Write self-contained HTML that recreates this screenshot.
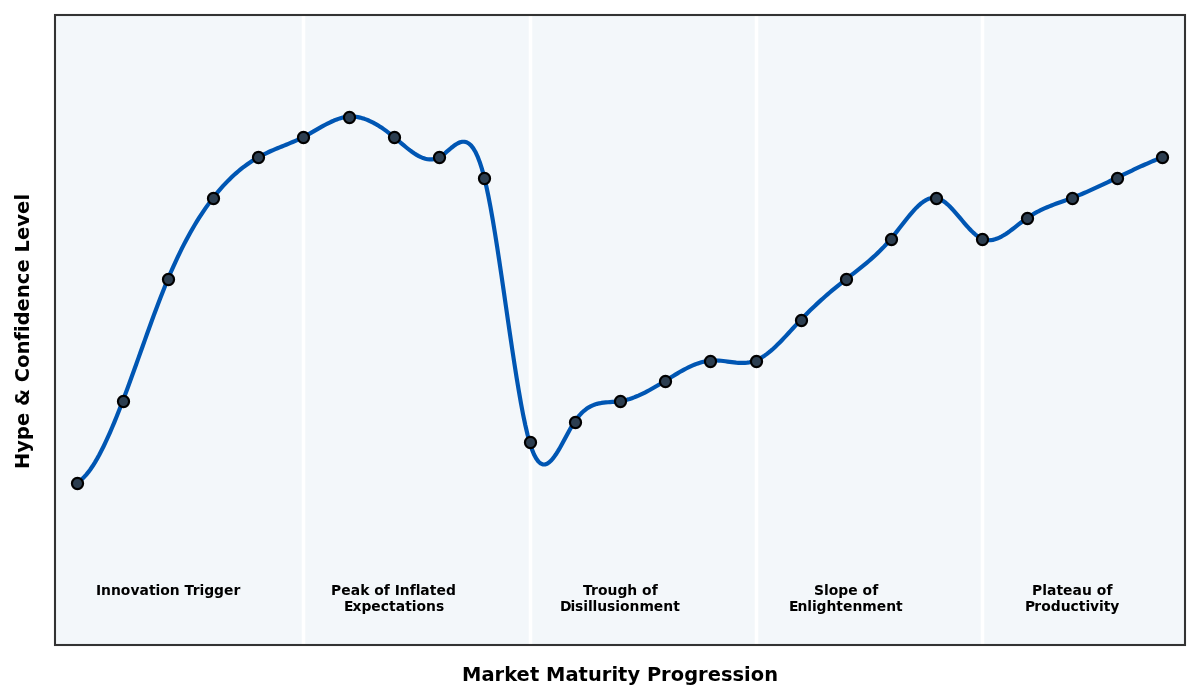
<!DOCTYPE html>
<html lang="en">
<head>
<meta charset="utf-8">
<title>Hype Cycle — Market Maturity Progression</title>
<style>
html,body{margin:0;padding:0;background:#ffffff;}
body{width:1200px;height:700px;overflow:hidden;}
svg{display:block;}
text{font-family:"DejaVu Sans","Liberation Sans",sans-serif;font-weight:bold;fill:#000000;}
.stage{font-size:13.889px;}
.axlabel{font-size:19.444px;}
</style>
</head>
<body>
<svg width="1200" height="700" viewBox="0 0 1200 700" role="img" aria-label="Hype cycle curve: hype and confidence level across market maturity stages">
<rect x="0" y="0" width="1200" height="700" fill="#ffffff"/>
<rect x="54.833" y="15" width="1130.167" height="630.167" fill="#f3f7fa"/>
<rect x="301.764" y="15" width="3.472" height="630.167" fill="#ffffff"/>
<rect x="528.764" y="15" width="3.472" height="630.167" fill="#ffffff"/>
<rect x="754.764" y="15" width="3.472" height="630.167" fill="#ffffff"/>
<rect x="980.764" y="15" width="3.472" height="630.167" fill="#ffffff"/>
<path d="M77.44 482.54 L79.61 481.08 L81.79 479.30 L83.96 477.22 L86.13 474.83 L88.31 472.17 L90.48 469.23 L92.66 466.02 L94.83 462.57 L97.01 458.88 L99.18 454.96 L101.35 450.82 L103.53 446.48 L105.70 441.94 L107.88 437.23 L110.05 432.34 L112.22 427.29 L114.40 422.09 L116.57 416.75 L118.75 411.29 L120.92 405.72 L123.10 400.04 L125.27 394.27 L127.44 388.42 L129.62 382.50 L131.79 376.53 L133.97 370.50 L136.14 364.44 L138.32 358.36 L140.49 352.27 L142.66 346.18 L144.84 340.09 L147.01 334.03 L149.19 328.00 L151.36 322.02 L153.54 316.09 L155.71 310.23 L157.88 304.44 L160.06 298.75 L162.23 293.16 L164.41 287.68 L166.58 282.33 L168.76 277.11 L170.93 272.03 L173.10 267.09 L175.28 262.28 L177.45 257.61 L179.63 253.07 L181.80 248.66 L183.98 244.37 L186.15 240.21 L188.32 236.17 L190.50 232.25 L192.67 228.44 L194.85 224.75 L197.02 221.17 L199.20 217.70 L201.37 214.33 L203.54 211.07 L205.72 207.91 L207.89 204.84 L210.07 201.88 L212.24 199.01 L214.42 196.22 L216.59 193.53 L218.76 190.93 L220.94 188.41 L223.11 185.98 L225.29 183.63 L227.46 181.37 L229.64 179.18 L231.81 177.08 L233.98 175.05 L236.16 173.10 L238.33 171.23 L240.51 169.43 L242.68 167.70 L244.86 166.04 L247.03 164.45 L249.20 162.93 L251.38 161.48 L253.55 160.09 L255.73 158.76 L257.90 157.50 L260.08 156.30 L262.25 155.15 L264.42 154.06 L266.60 153.01 L268.77 152.00 L270.95 151.02 L273.12 150.07 L275.30 149.15 L277.47 148.25 L279.64 147.36 L281.82 146.48 L283.99 145.60 L286.17 144.72 L288.34 143.83 L290.51 142.92 L292.69 142.00 L294.86 141.05 L297.04 140.08 L299.21 139.07 L301.39 138.02 L303.56 136.92 L305.73 135.78 L307.91 134.59 L310.08 133.37 L312.26 132.14 L314.43 130.88 L316.61 129.63 L318.78 128.38 L320.95 127.14 L323.13 125.93 L325.30 124.75 L327.48 123.61 L329.65 122.52 L331.83 121.50 L334.00 120.54 L336.17 119.67 L338.35 118.88 L340.52 118.19 L342.70 117.61 L344.87 117.15 L347.05 116.81 L349.22 116.60 L351.39 116.54 L353.57 116.61 L355.74 116.81 L357.92 117.14 L360.09 117.59 L362.27 118.16 L364.44 118.85 L366.61 119.64 L368.79 120.54 L370.96 121.53 L373.14 122.63 L375.31 123.81 L377.49 125.08 L379.66 126.43 L381.83 127.86 L384.01 129.36 L386.18 130.93 L388.36 132.56 L390.53 134.25 L392.71 136.00 L394.88 137.80 L397.05 139.63 L399.23 141.49 L401.40 143.34 L403.58 145.19 L405.75 147.00 L407.93 148.75 L410.10 150.44 L412.27 152.04 L414.45 153.53 L416.62 154.89 L418.80 156.12 L420.97 157.18 L423.15 158.06 L425.32 158.74 L427.49 159.21 L429.67 159.44 L431.84 159.42 L434.02 159.13 L436.19 158.55 L438.37 157.66 L440.54 156.45 L442.71 154.97 L444.89 153.28 L447.06 151.46 L449.24 149.60 L451.41 147.76 L453.59 146.04 L455.76 144.50 L457.93 143.22 L460.11 142.28 L462.28 141.76 L464.46 141.73 L466.63 142.28 L468.81 143.47 L470.98 145.39 L473.15 148.12 L475.33 151.73 L477.50 156.30 L479.68 161.91 L481.85 168.63 L484.02 176.55 L486.20 185.71 L488.37 196.04 L490.55 207.40 L492.72 219.68 L494.90 232.73 L497.07 246.44 L499.24 260.67 L501.42 275.29 L503.59 290.17 L505.77 305.19 L507.94 320.22 L510.12 335.13 L512.29 349.78 L514.46 364.06 L516.64 377.82 L518.81 390.95 L520.99 403.31 L523.16 414.77 L525.34 425.21 L527.51 434.50 L529.68 442.50 L531.86 449.14 L534.03 454.47 L536.21 458.58 L538.38 461.54 L540.56 463.46 L542.73 464.41 L544.90 464.48 L547.08 463.75 L549.25 462.31 L551.43 460.25 L553.60 457.64 L555.78 454.58 L557.95 451.15 L560.12 447.43 L562.30 443.52 L564.47 439.49 L566.65 435.44 L568.82 431.44 L571.00 427.58 L573.17 423.95 L575.34 420.63 L577.52 417.67 L579.69 415.06 L581.87 412.76 L584.04 410.77 L586.22 409.06 L588.39 407.59 L590.56 406.37 L592.74 405.35 L594.91 404.52 L597.09 403.85 L599.26 403.33 L601.44 402.93 L603.61 402.63 L605.78 402.40 L607.96 402.23 L610.13 402.08 L612.31 401.95 L614.48 401.80 L616.66 401.62 L618.83 401.38 L621.00 401.06 L623.18 400.65 L625.35 400.15 L627.53 399.58 L629.70 398.92 L631.88 398.20 L634.05 397.40 L636.22 396.54 L638.40 395.62 L640.57 394.64 L642.75 393.61 L644.92 392.53 L647.10 391.40 L649.27 390.24 L651.44 389.04 L653.62 387.80 L655.79 386.54 L657.97 385.25 L660.14 383.95 L662.31 382.63 L664.49 381.29 L666.66 379.95 L668.84 378.61 L671.01 377.27 L673.19 375.94 L675.36 374.63 L677.53 373.34 L679.71 372.07 L681.88 370.84 L684.06 369.65 L686.23 368.50 L688.41 367.41 L690.58 366.37 L692.75 365.39 L694.93 364.49 L697.10 363.66 L699.28 362.91 L701.45 362.25 L703.63 361.68 L705.80 361.21 L707.97 360.85 L710.15 360.59 L712.32 360.45 L714.50 360.42 L716.67 360.47 L718.85 360.60 L721.02 360.79 L723.19 361.03 L725.37 361.30 L727.54 361.59 L729.72 361.88 L731.89 362.16 L734.07 362.42 L736.24 362.64 L738.41 362.80 L740.59 362.90 L742.76 362.91 L744.94 362.83 L747.11 362.64 L749.29 362.32 L751.46 361.86 L753.63 361.25 L755.81 360.47 L757.98 359.51 L760.16 358.39 L762.33 357.10 L764.51 355.67 L766.68 354.10 L768.85 352.41 L771.03 350.60 L773.20 348.69 L775.38 346.68 L777.55 344.59 L779.73 342.43 L781.90 340.20 L784.07 337.93 L786.25 335.61 L788.42 333.26 L790.60 330.90 L792.77 328.52 L794.95 326.15 L797.12 323.79 L799.29 321.46 L801.47 319.16 L803.64 316.90 L805.82 314.68 L807.99 312.49 L810.17 310.35 L812.34 308.24 L814.51 306.16 L816.69 304.12 L818.86 302.11 L821.04 300.14 L823.21 298.19 L825.39 296.27 L827.56 294.37 L829.73 292.51 L831.91 290.66 L834.08 288.84 L836.26 287.05 L838.43 285.27 L840.60 283.51 L842.78 281.77 L844.95 280.05 L847.13 278.34 L849.30 276.64 L851.48 274.96 L853.65 273.27 L855.82 271.57 L858.00 269.87 L860.17 268.15 L862.35 266.41 L864.52 264.64 L866.70 262.84 L868.87 261.00 L871.04 259.11 L873.22 257.18 L875.39 255.19 L877.57 253.14 L879.74 251.03 L881.92 248.84 L884.09 246.57 L886.26 244.22 L888.44 241.79 L890.61 239.26 L892.79 236.63 L894.96 233.91 L897.14 231.14 L899.31 228.33 L901.48 225.51 L903.66 222.70 L905.83 219.92 L908.01 217.21 L910.18 214.57 L912.36 212.04 L914.53 209.64 L916.70 207.39 L918.88 205.32 L921.05 203.45 L923.23 201.80 L925.40 200.40 L927.58 199.27 L929.75 198.43 L931.92 197.92 L934.10 197.74 L936.27 197.94 L938.45 198.51 L940.62 199.44 L942.80 200.69 L944.97 202.23 L947.14 204.02 L949.32 206.03 L951.49 208.22 L953.67 210.57 L955.84 213.02 L958.02 215.56 L960.19 218.14 L962.36 220.73 L964.54 223.30 L966.71 225.80 L968.89 228.22 L971.06 230.50 L973.24 232.62 L975.41 234.54 L977.58 236.23 L979.76 237.65 L981.93 238.77 L984.11 239.57 L986.28 240.06 L988.46 240.26 L990.63 240.19 L992.80 239.88 L994.98 239.34 L997.15 238.59 L999.33 237.66 L1001.50 236.56 L1003.68 235.31 L1005.85 233.94 L1008.02 232.46 L1010.20 230.90 L1012.37 229.27 L1014.55 227.59 L1016.72 225.89 L1018.89 224.19 L1021.07 222.50 L1023.24 220.84 L1025.42 219.24 L1027.59 217.72 L1029.77 216.28 L1031.94 214.92 L1034.11 213.64 L1036.29 212.43 L1038.46 211.28 L1040.64 210.20 L1042.81 209.17 L1044.99 208.18 L1047.16 207.24 L1049.33 206.34 L1051.51 205.48 L1053.68 204.64 L1055.86 203.82 L1058.03 203.02 L1060.21 202.24 L1062.38 201.45 L1064.55 200.68 L1066.73 199.89 L1068.90 199.10 L1071.08 198.29 L1073.25 197.47 L1075.43 196.62 L1077.60 195.75 L1079.77 194.86 L1081.95 193.96 L1084.12 193.03 L1086.30 192.09 L1088.47 191.14 L1090.65 190.17 L1092.82 189.19 L1094.99 188.20 L1097.17 187.19 L1099.34 186.18 L1101.52 185.16 L1103.69 184.13 L1105.87 183.09 L1108.04 182.05 L1110.21 181.00 L1112.39 179.95 L1114.56 178.90 L1116.74 177.84 L1118.91 176.79 L1121.09 175.74 L1123.26 174.68 L1125.43 173.64 L1127.61 172.59 L1129.78 171.55 L1131.96 170.52 L1134.13 169.49 L1136.31 168.48 L1138.48 167.47 L1140.65 166.47 L1142.83 165.48 L1145.00 164.51 L1147.18 163.55 L1149.35 162.60 L1151.53 161.67 L1153.70 160.76 L1155.87 159.86 L1158.05 158.99 L1160.22 158.13 L1162.40 157.30" fill="none" stroke="#0056b3" stroke-width="4.167" stroke-linejoin="round" stroke-linecap="square"/>
<g fill="#2c3e50" stroke="#000000" stroke-width="2.183">
<circle cx="77.5" cy="483.5" r="5.556"/>
<circle cx="123.5" cy="401.5" r="5.556"/>
<circle cx="168.5" cy="279.5" r="5.556"/>
<circle cx="213.5" cy="198.5" r="5.556"/>
<circle cx="258.5" cy="157.5" r="5.556"/>
<circle cx="303.5" cy="137.5" r="5.556"/>
<circle cx="349.5" cy="117.5" r="5.556"/>
<circle cx="394.5" cy="137.5" r="5.556"/>
<circle cx="439.5" cy="157.5" r="5.556"/>
<circle cx="484.5" cy="178.5" r="5.556"/>
<circle cx="530.5" cy="442.5" r="5.556"/>
<circle cx="575.5" cy="422.5" r="5.556"/>
<circle cx="620.5" cy="401.5" r="5.556"/>
<circle cx="665.5" cy="381.5" r="5.556"/>
<circle cx="710.5" cy="361.5" r="5.556"/>
<circle cx="756.5" cy="361.5" r="5.556"/>
<circle cx="801.5" cy="320.5" r="5.556"/>
<circle cx="846.5" cy="279.5" r="5.556"/>
<circle cx="891.5" cy="239.5" r="5.556"/>
<circle cx="936.5" cy="198.5" r="5.556"/>
<circle cx="982.5" cy="239.5" r="5.556"/>
<circle cx="1027.5" cy="218.5" r="5.556"/>
<circle cx="1072.5" cy="198.5" r="5.556"/>
<circle cx="1117.5" cy="178.5" r="5.556"/>
<circle cx="1162.5" cy="157.5" r="5.556"/>
</g>
<text class="axlabel" x="462 481.375 494.5 504.125 516.5 529.875 539.25 546 565.375 578.5 587.875 601.75 611.375 618 627.375 640.125 646.875 661 670.625 684.125 698 707.625 721 732.5 744 750.625 764.125" y="681">Market Maturity Progression</text>
<text class="axlabel" transform="translate(29 468.9) rotate(-90)" x="0 16.25 29 42.875 56.25 63 80 86.75 101.125 114.625 128.5 137 143.625 157.5 170.875 184.75 196.375 209.75 216.5 228.875 242.25 255 268.375" y="0">Hype &amp; Confidence Level</text>
<text class="stage" x="95.9 101.025 110.9 120.775 130.4 139.4 148.9 155.525 160.15 169.775 179.65 184.525 192.65 199.525 204.15 214.025 223.9 233.4" y="595">Innovation Trigger</text>
<text class="stage" x="330.9 341.15 350.65 360.15 369.275 374.15 383.775 389.775 394.65 399.775 409.65 415.65 420.275 429.775 436.4 445.9" y="595">Peak of Inflated</text>
<text class="stage" x="343.9 352.4 361.4 371.275 380.775 389.025 395.65 405.15 411.775 416.4 426.025 435.9" y="611">Expectations</text>
<text class="stage" x="582.9 591.025 597.9 607.525 617.4 627.275 637.15 642.025 651.65" y="595">Trough of</text>
<text class="stage" x="559.9 570.4 575.025 583.275 587.9 592.525 597.15 607.025 615.275 619.9 629.525 639.4 653.775 663.275 673.15" y="611">Disillusionment</text>
<text class="stage" x="814 824 828.625 838.25 848.125 857.625 862.5 872.125" y="595">Slope of</text>
<text class="stage" x="788.9 797.4 807.275 811.9 816.525 826.4 836.275 842.9 852.4 862.275 876.65 886.15 896.025" y="611">Enlightenment</text>
<text class="stage" x="1032 1042.25 1046.875 1056.375 1063 1072.5 1082 1091.875 1096.75 1106.375" y="595">Plateau of</text>
<text class="stage" x="1025 1034.25 1041.125 1050.75 1060.625 1070.5 1078.75 1085.375 1090 1099 1103.625 1110.25" y="611">Productivity</text>
<rect x="55" y="15" width="1130" height="630" fill="none" stroke="#333333" stroke-width="2.083" stroke-linejoin="miter"/>
</svg>
</body>
</html>
